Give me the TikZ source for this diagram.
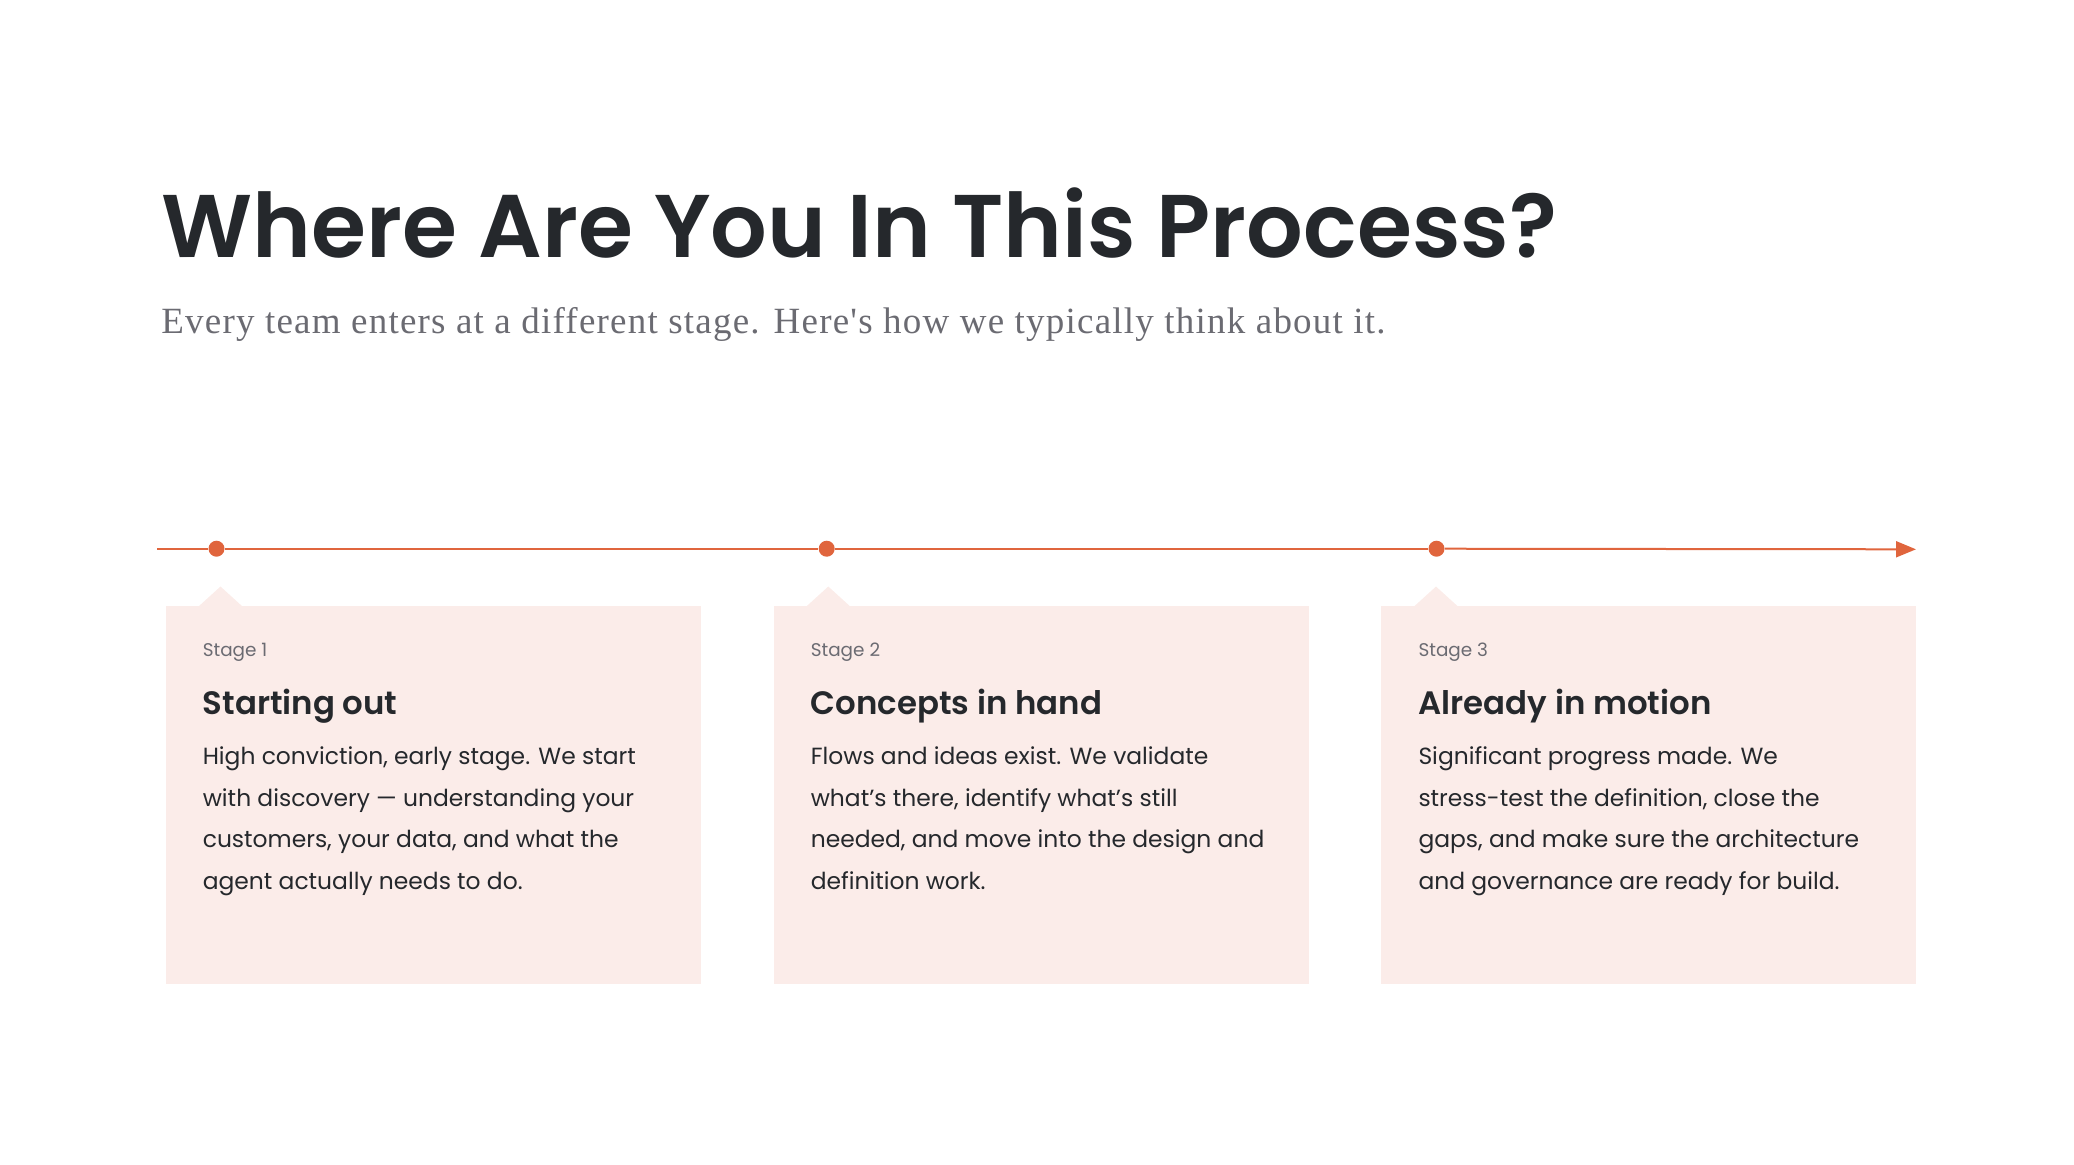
\documentclass[tikz,border=0pt]{standalone}
\usepackage{fontspec}
\setmainfont{Poppins}
\newfontfamily\demigras{Poppins SemiBold}
\newfontfamily\soustitrefont{Liberation Serif}[LetterSpace=3.3]
\usepackage{tikz}
\usetikzlibrary{arrows.meta}
\usetikzlibrary{positioning}
\definecolor{accent}{HTML}{E0653D}
\definecolor{encre}{HTML}{25282C}
\definecolor{gris}{HTML}{6B6B72}
\definecolor{rose}{HTML}{FBECE9}
\tikzset{
    carte/.style = {fill=rose, minimum width=267.5pt, minimum height=188.85pt, inner sep=0pt, anchor=north west},
    jalon/.style = {circle, fill=accent, inner sep=0pt, minimum size=8pt},
    etape/.style = {anchor=base west, inner sep=0pt, text=gris, font=\fontsize{9.2}{11}\selectfont},
    titre/.style = {anchor=base west, inner sep=0pt, text=encre, font=\demigras\fontsize{16.2}{18}\selectfont},
    texte/.style = {anchor=base west, inner sep=0pt, text=encre, align=left, font=\fontsize{11.7}{20.85}\selectfont},
    >=Triangle
}

\begin{document}
\begin{tikzpicture}[x=0.5pt, y=-0.5pt]
                \useasboundingbox (0,0) rectangle (2074,1164);
                \node (T) [anchor=base west, inner sep=0pt, text=encre, font=\demigras\fontsize{44.5}{50}\selectfont] at (161,257.3) {Where Are You In This Process?};
                \node (ST) [anchor=base west, inner sep=0pt, text=gris, font=\soustitrefont\fontsize{18.5}{22}\selectfont] at (161,333.3) {Every team enters at a different stage. Here's how we typically think about it.};
                \coordinate (debut) at (157,548.7);
                \coordinate (fin) at (1916,549.3);
                \node (J1) [jalon] at (216.5,548.7) {};
                \node (J2) [jalon] at (826.7,548.7) {};
                \node (J3) [jalon] at (1436.5,548.7) {};
                \draw[accent, line width=1pt] (debut) -- (J1) -- (J2) -- (J3);
                \draw[accent, line width=1pt, arrows={-Triangle[length=10pt, width=8pt]}] (J3) -- (fin);
                \node (C1) [carte] at (165.3,606) {};
                \node (C2) [carte] at (773.3,606) {};
                \node (C3) [carte] at (1381,606) {};
                \fill[rose] (198.5,606.5) -- (220.5,586.5) -- (242.5,606.5) -- cycle;
                \fill[rose] (806.3,606.5) -- (828.3,586.5) -- (850.3,606.5) -- cycle;
                \fill[rose] (1414,606.5) -- (1436,586.5) -- (1458,606.5) -- cycle;
                \node (E1) [etape] at (202.4,656.7) {Stage 1};
                \node (E2) [etape] at (810.4,656.7) {Stage 2};
                \node (E3) [etape] at (1418.1,656.7) {Stage 3};
                \node (H1) [titre] at (202.4,714.3) {Starting out};
                \node (H2) [titre] at (810.4,714.3) {Concepts in hand};
                \node (H3) [titre] at (1418.1,714.3) {Already in motion};
                \node (B1) [texte] at (202.4,889.4) {High conviction, early stage. We start\\with discovery — understanding your\\customers, your data, and what the\\agent actually needs to do.};
                \node (B2) [texte] at (810.4,889.4) {Flows and ideas exist. We validate\\what's there, identify what's still\\needed, and move into the design and\\definition work.};
                \node (B3) [texte] at (1418.1,889.4) {Significant progress made. We\\stress-test the definition, close the\\gaps, and make sure the architecture\\and governance are ready for build.};
\end{tikzpicture}
\end{document}
